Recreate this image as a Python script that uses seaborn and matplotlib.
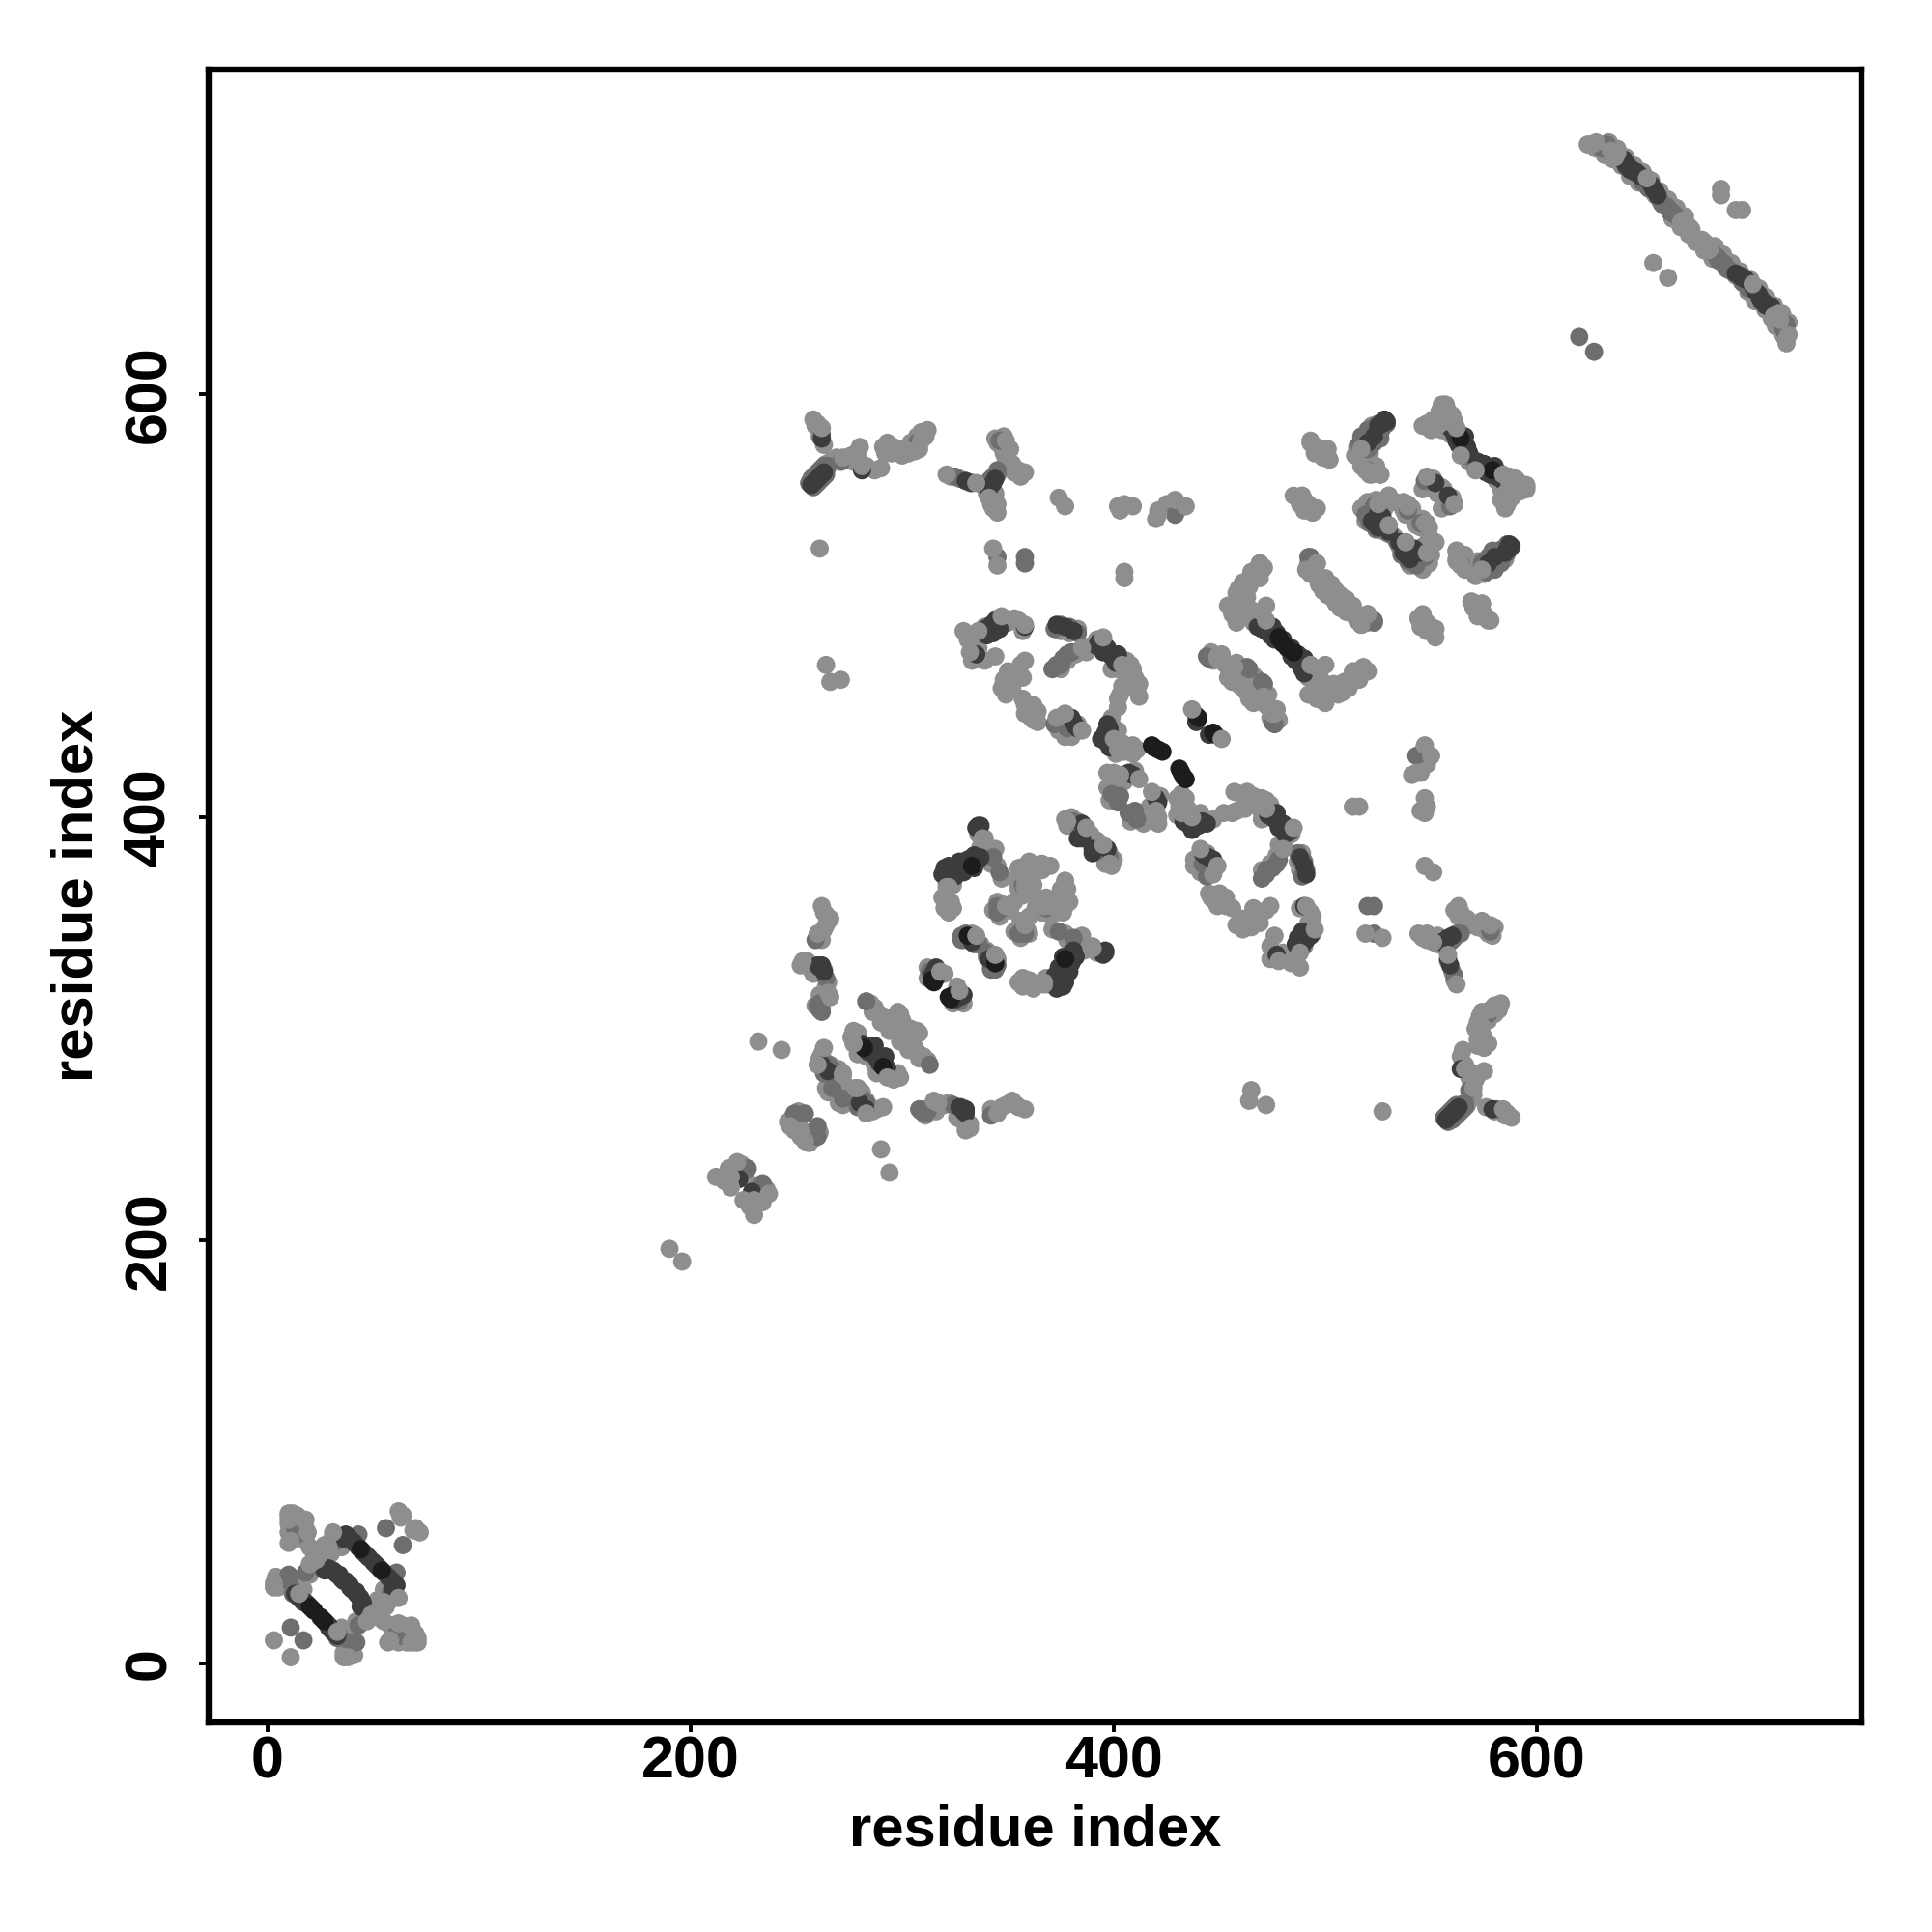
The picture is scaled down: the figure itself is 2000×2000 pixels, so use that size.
import pandas as pd
import matplotlib
matplotlib.use('Agg')
import matplotlib.pyplot as plt
import seaborn as sns

# contactos (i < j), o mapa e simetrico; agrupados pelo tom de cinza
under_contacts = [
    (259,585),(261,583),(261,580),(263,576),(264,567),(267,569),(269,570),(274,569),(277,568),(278,572),
    (279,570),(283,566),(287,564),(292,572),(293,577),(295,572),(298,573),(300,571),(303,572),(304,577),
    (306,576),(307,580),(308,574),(309,582),(311,580),(323,561),(327,560),(332,558),(338,557),(340,553),
    (342,548),(343,546),(344,553),(347,575),(348,572),(349,569),(350,566),(352,567),(353,563),(356,561),
    (348,580),(345,577),(344,579),(403,545),(405,548),(420,541),(425,548),(427,546),(431,546),(331,484),
    (334,486),(338,486),(339,490),(345,494),(350,492),(355,493),(357,488),(333,474),(336,480),(339,474),
    (351,465),(352,461),(355,469),(356,472),(348,465),(347,461),(360,450),(364,450),(361,447),(357,456),
    (364,445),(375,488),(379,487),(383,489),(375,470),(378,474),(382,477),(387,478),(389,481),(392,484),
    (399,470),(402,470),(406,468),(406,474),(409,470),(410,466),(408,462),(411,460),(403,458),(402,452),
    (399,447),(399,443),(402,441),(404,435),(406,433),(401,430),(405,431),(411,432),(374,441),(376,444),
    (379,446),(383,444),(380,438),(377,438),(397,421),(399,417),(404,417),(410,422),(397,414),(398,408),
    (402,412),(405,417),(446,478),(451,474),(455,471),(458,473),(461,467),(459,463),(466,467),(468,460),
    (462,460),(466,454),(473,452),(474,447),(477,451),(458,500),(462,498),(465,496),(466,493),(464,509),
    (459,508),(462,503),(467,513),(471,518),(458,492),(454,500),(494,468),(498,465),(494,458),(499,463),
    (501,458),(506,458),(516,465),(517,470),(500,472),(498,457),(492,466),(493,519),(494,516),(496,514),
    (497,510),(501,505),(504,503),(505,507),(510,498),(512,500),(515,493),(518,495),(520,492),(493,521),
    (545,490),(546,496),(550,490),(569,502),(570,499),(573,498),(575,496),(495,572),(499,571),(494,576),
    (517,566),(521,562),(524,566),(488,548),(490,546),(492,545),(485,552),(517,546),(520,549),(522,541),
    (526,543),(527,541),(519,540),(524,550),(528,535),(532,533),(536,526),(540,527),(541,522),(545,521),
    (546,528),(549,533),(537,545),(541,546),(543,538),(549,537),(546,555),(549,556),(553,553),(556,555),
    (559,549),(560,551),(562,522),(565,522),(571,514),(572,518),(575,515),(578,517),(582,520),(518,570),
    (518,577),(521,572),(523,578),(526,582),(523,582),(529,586),(522,585),(518,573),(548,586),(550,584),
    (553,588),(554,592),(557,595),(556,589),(560,590),(561,587),(563,582),(564,575),(562,578),(566,573),
    (568,568),(572,568),(576,565),(581,559),(583,555),(583,550),(587,557),(589,554),(593,555),(586,559),
    (588,551),(263,355),(264,354),(264,349),(263,347),(262,342),(255,332),(257,328),(258,326),(263,328),
    (264,320),(263,314),(262,310),(259,311),(265,322),(261,316),(285,312),(287,310),(289,307),(291,306),
    (296,304),(297,301),(298,308),(294,299),(300,304),(286,308),(290,303),(276,296),(279,298),(279,293),
    (280,290),(283,287),(285,287),(279,288),(261,286),(262,288),(264,284),(266,283),(268,279),(270,281),
    (266,276),(265,270),(268,270),(270,273),(272,275),(264,272),(251,261),(248,258),(246,256),(249,252),
    (251,256),(218,234),(216,228),(220,233),(224,236),(226,230),(321,369),(324,368),(323,360),(322,355),
    (319,362),(345,360),(347,359),(343,356),(346,353),(351,356),(353,360),(355,376),(355,373),(354,370),
    (357,363),(360,372),(360,379),(361,369),(364,376),(366,378),(364,362),(368,358),(372,358),(373,362),
    (375,366),(377,363),(360,364),(355,366),(337,386),(339,390),(336,392),(340,383),(342,378),(345,377),
    (347,371),(344,385),(378,396),(380,400),(383,398),(384,393),(389,392),(390,388),(312,329),(316,328),
    (320,326),(312,324),(329,342),(333,345),(337,340),(12,71),(14,70),(13,66),(15,64),(12,62),(14,60),
    (16,60),(18,58),(22,52),(24,50),(26,54),(30,58),(20,42),(5,36),(5,40),(7,38),(28,52),(30,52),(33,56),
    (14,34),(10,57),(10,62),(10,66),(10,70),(14,62),(14,66),(18,60),(18,64),(18,68),(4,37),(4,41),(12,39),
    (21,44),(24,48),(27,48),(35,55),(35,57),(17,35),(628,716),(632,713),(636,711),(640,708),(644,703),
    (648,700),(652,698),(656,694),(660,690),(664,683),(668,679),(672,675),(634,719),(638,716),(642,712),
    (646,708),(650,705),(654,701),(658,696),(662,692),(666,688),(670,684),
]
light_contacts = [
    (258,588),(260,586),(262,584),(272,570),(276,571),(280,575),(281,566),(290,565),(291,575),(296,575),
    (301,574),(306,573),(310,582),(312,583),(309,578),(321,562),(335,558),(349,578),(351,574),(358,563),
    (355,564),(341,551),(345,548),(345,544),(374,551),(377,547),(402,547),(409,547),(421,545),(421,543),
    (429,550),(434,547),(261,527),(343,527),(345,519),(405,516),(405,513),(329,488),(336,488),(347,495),
    (353,494),(358,491),(332,478),(344,476),(358,474),(357,466),(350,469),(349,462),(349,458),(358,453),
    (362,453),(362,446),(358,449),(385,480),(395,485),(404,472),(408,472),(412,463),(412,457),(404,462),
    (402,456),(400,437),(402,432),(409,434),(409,430),(373,447),(377,449),(385,441),(400,421),(412,418),
    (403,420),(437,451),(469,520),(469,516),(461,511),(460,505),(456,497),(460,495),(470,497),(493,472),
    (497,470),(496,461),(496,456),(504,463),(510,461),(513,469),(520,469),(449,476),(453,472),(456,465),
    (464,456),(471,457),(475,449),(496,520),(500,513),(503,510),(499,507),(509,503),(507,499),(513,496),
    (520,496),(517,491),(544,494),(548,492),(552,489),(571,501),(574,501),(577,493),(493,578),(497,574),
    (501,574),(501,570),(519,564),(523,563),(526,562),(487,551),(489,552),(491,548),(494,544),(530,552),
    (525,548),(530,538),(539,548),(547,539),(552,530),(561,548),(562,526),(574,517),(546,585),(552,585),
    (555,595),(558,592),(558,587),(564,571),(584,562),(585,547),(585,553),(591,557),(595,556),(264,472),
    (266,464),(271,465),(262,358),(266,352),(260,345),(253,332),(252,330),(265,317),(266,315),(292,304),
    (299,307),(295,301),(277,299),(277,293),(272,279),(272,278),(263,291),(260,283),(247,254),(232,294),
    (243,290),(222,237),(212,230),(219,230),(219,225),(338,390),(321,367),(321,358),(324,357),(349,358),
    (358,377),(358,371),(362,374),(370,377),(362,368),(358,367),(362,376),(377,399),(387,395),(378,398),
    (318,327),(335,344),(323,357),(320,357),(322,367),(624,718),(626,718),(638,714),(652,702),(669,682),
    (672,679),(670,681),(628,719),(635,715),(637,712),(668,681),(671,680),(673,678),(687,697),(687,694),
    (655,662),(190,196),(3,11),(62,72),(64,70),(63,69),(10,71),(10,68),(17,68),(19,62),(11,58),(20,55),
    (3,38),(3,36),(20,47),(31,62),(27,56),(23,49),(25,52),(29,55),(15,33),
]
mid_contacts = [
    (262,581),(271,568),(265,566),(264,564),(307,577),(325,561),(342,560),(345,564),(346,578),(347,578),
    (429,543),(345,523),(358,523),(358,520),(348,494),(373,472),(376,475),(380,478),(399,411),(403,410),
    (402,407),(372,444),(378,442),(444,476),(463,471),(470,464),(475,445),(492,523),(491,517),(523,493),
    (516,576),(517,580),(520,583),(525,586),(520,574),(519,543),(523,547),(521,539),(524,536),(534,530),
    (538,530),(539,546),(545,539),(542,520),(548,525),(547,559),(558,552),(564,520),(571,566),(259,342),
    (264,324),(261,312),(261,309),(283,313),(264,281),(267,272),(249,260),(254,260),(227,234),(343,381),
    (346,374),(345,358),(357,368),(381,398),(328,344),(347,357),(345,355),(313,327),(630,718),(633,718),
    (658,692),(664,686),(661,689),(620,627),(11,17),(56,64),(12,33),(10,42),(18,43),(33,58),(43,61),
    (26,45),(258,556),(259,557),(260,558),(261,559),(262,560),(263,561),(264,562),(256,558),(257,560),
    (258,561),(259,562),(260,563),(261,564),(262,565),(263,566),(340,556),(341,559),(343,561),(345,562),
    (575,521),(577,523),(579,526),(582,526),(584,527),(586,529),(583,523),(575,517),(519,578),(521,581),
    (523,584),(526,584),(522,581),(372,489),(375,491),(379,490),(383,487),(371,470),(375,472),(378,477),
    (328,342),(330,345),(332,342),(334,340),(336,340),(260,311),(262,308),(265,283),(263,279),(267,281),
    (628,718),(631,716),(634,716),(636,714),(639,712),(650,700),(653,697),(659,690),(660,689),(662,688),
    (663,686),(665,685),(667,683),(13,34),(14,61),(15,62),(13,64),(34,60),(32,60),(39,10),
]
dark_contacts = [
    (257,557),(258,558),(259,559),(260,560),(261,561),(262,562),(263,563),(281,564),(262,579),(330,559),
    (341,555),(343,558),(344,560),(342,557),(373,491),(377,490),(381,488),(341,488),(342,491),(344,493),
    (335,477),(358,490),(392,481),(396,481),(398,478),(400,475),(397,444),(396,439),(397,435),(381,445),
    (382,443),(407,421),(409,420),(439,445),(468,490),(472,488),(475,490),(488,475),(490,473),(539,523),
    (544,525),(552,558),(561,581),(565,578),(567,575),(574,566),(577,520),(580,523),(587,527),(585,525),
    (528,588),(261,329),(265,280),(262,283),(283,290),(320,376),(323,373),(326,377),(329,374),(331,380),
    (336,380),(336,396),(385,397),(383,390),(385,390),(333,341),(315,327),(223,229),(641,711),(644,706),
    (648,704),(655,697),(642,708),(646,705),(14,32),(16,30),(18,29),(27,44),(30,44),(32,43),(34,42),
    (36,39),(38,60),(36,59),(40,58),(46,52),(48,50),(319,373),(321,375),(322,377),(324,375),(325,372),
    (327,379),(328,378),(330,376),(332,378),(334,382),(334,376),(337,381),(337,396),(335,395),(339,489),
    (340,486),(343,487),(345,491),(346,489),(393,483),(394,480),(395,478),(397,480),(399,476),(401,473),
    (402,477),(398,442),(396,436),(394,437),(398,433),(380,447),(383,442),(470,489),(474,486),(476,484),
    (473,491),(477,487),(480,484),(483,480),(486,476),(487,477),(490,475),(491,471),(535,530),(537,525),
    (540,522),(542,527),(559,584),(562,579),(563,576),(566,580),(568,572),(572,565),(576,566),(578,562),
    (581,561),(333,558),(527,586),(529,587),(314,325),(316,324),(316,329),(317,327),(262,330),(263,327),
    (260,330),(281,293),(283,292),(284,289),(286,288),(287,292),(396,440),(399,438),(640,711),(643,708),
    (645,706),(647,705),(649,703),(651,702),(654,699),(656,696),(657,694),(13,33),(15,31),(17,29),(19,28),
    (21,26),(26,46),(28,45),(29,45),(31,44),(33,42),(35,40),(37,39),(37,61),(39,59),(41,57),(43,55),(45,53),
    (47,51),
]
black_contacts = [
    (478,485),(482,480),(485,478),(418,434),(423,431),(419,433),(421,432),(439,448),(440,447),(579,564),
    (333,377),(331,344),(282,291),(314,323),(315,322),(20,27),(22,25),(44,54),
]

levels = ['under', 'mid', 'dark', 'black', 'light']
level_colors = {'under': '#8e8e8e', 'light': '#8e8e8e', 'mid': '#6e6e6e', 'dark': '#3c3c3c', 'black': '#1c1c1c'}
ticks = [0, 200, 400, 600]
axis_label = 'residue index'


def contacts_table():
    """Monta a tabela com os dois lados do mapa, na ordem de desenho."""
    groups = {'under': under_contacts, 'mid': mid_contacts, 'dark': dark_contacts,
              'black': black_contacts, 'light': light_contacts}
    frames = []
    for level in levels:
        half = pd.DataFrame(groups[level], columns=['i', 'j'])
        half['level'] = level
        mirrored = half.rename(columns={'i': 'j', 'j': 'i'})
        frames.append(pd.concat([half, mirrored], ignore_index=True))
    return pd.concat(frames, ignore_index=True)


sns.set_theme(style='white')
plt.rcParams['font.family'] = ['Liberation Sans', 'DejaVu Sans']
plt.rcParams['font.weight'] = 'bold'

fig = plt.figure(figsize=(10, 10), dpi=200)
ax = fig.add_axes([0.108, 0.1085, 0.8555, 0.8555])

sns.scatterplot(data=contacts_table(), x='i', y='j', hue='level', palette=level_colors,
                s=46, linewidth=0, legend=False, ax=ax)

ax.set_xlim(-27.8, 753.4)
ax.set_ylim(-27.8, 753.4)
ax.set_xticks(ticks)
ax.set_yticks(ticks)
ax.tick_params(axis='x', length=3.5, width=1.4, color='black', labelsize=22, labelcolor='black', pad=1.5, bottom=True)
ax.tick_params(axis='y', length=3.5, width=1.4, color='black', labelsize=22, labelcolor='black', pad=8, left=True)
for label in ax.get_yticklabels():
    label.set_rotation(90)
    label.set_va('center')
for spine in ax.spines.values():
    spine.set_linewidth(2.3)
    spine.set_color('black')

ax.set_xlabel(axis_label, fontsize=21.5, fontweight='bold', color='black', labelpad=5)
ax.set_ylabel(axis_label, fontsize=21.5, fontweight='bold', color='black', labelpad=7)

fig.savefig('out.png', dpi=200, facecolor='white')
